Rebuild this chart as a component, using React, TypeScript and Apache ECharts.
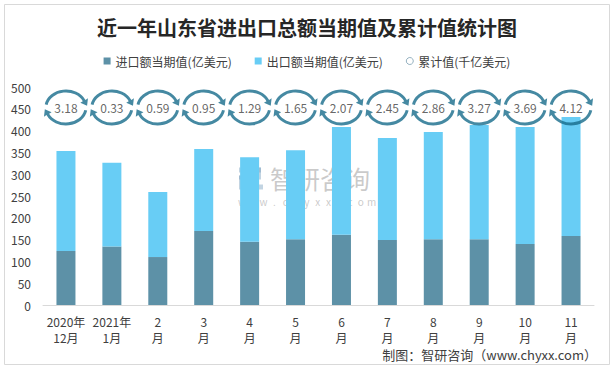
import React, { useEffect, useRef } from "react";
import * as echarts from "echarts";

const categories = ["2020年\n12月", "2021年\n1月", "2\n月", "3\n月", "4\n月", "5\n月", "6\n月", "7\n月", "8\n月", "9\n月", "10\n月", "11\n月"];
const importValues = [124, 134, 110, 170, 145, 151, 161, 149, 151, 151, 140, 158];
const exportValues = [229, 192, 149, 188, 194, 204, 247, 234, 246, 262, 268, 273];
const cumulativeValues = [3.18, 0.33, 0.59, 0.95, 1.29, 1.65, 2.07, 2.45, 2.86, 3.27, 3.69, 4.12];
const yTicks = { min: 0, max: 500, interval: 50 };

const ICON_LEVEL = 453;
const CYCLE_PATH =
  "path://M 6.67 35.75 A 44 36 0 0 1 89.88 26.79 L 94.96 23.55 L 93.16 38.45 L 79.36 32.55 L 84.44 29.32 A 38 30 0 0 0 12.58 36.79 Z " +
  "M 93.33 48.25 A 44 36 0 0 1 10.12 57.21 L 5.04 60.45 L 6.84 45.55 L 20.64 51.45 L 15.56 54.68 A 38 30 0 0 0 87.42 47.21 Z";

const FONT = "'Noto Sans CJK SC', 'Microsoft YaHei', sans-serif";
const WATERMARK_URL = "www.chyxx.com".split("");
const WM_FILL = "rgba(150,150,150,0.5)";
const LOGO_FILL = "rgba(120,160,190,0.45)";

export default function App() {
  const ref = useRef<HTMLDivElement>(null);
  useEffect(() => {
    document.body.style.margin = "0";
    const chart = echarts.init(ref.current!, undefined, { renderer: "svg" });
    chart.setOption({
      animation: false,
      backgroundColor: "#ffffff",
      textStyle: { fontFamily: FONT },
      title: {
        text: "近一年山东省进出口总额当期值及累计值统计图",
        left: "center",
        top: 12,
        textStyle: { fontSize: 20, fontWeight: "bold", color: "#262626", fontFamily: FONT },
      },
      legend: {
        top: 50,
        left: "center",
        itemWidth: 7,
        itemHeight: 7,
        itemGap: 23,
        textStyle: { fontSize: 12, color: "#404040", fontFamily: FONT },
        data: [
          { name: "进口额当期值(亿美元)", icon: "rect" },
          { name: "出口额当期值(亿美元)", icon: "rect" },
          {
            name: "累计值(千亿美元)",
            icon: "circle",
            itemStyle: { color: "#ffffff", borderColor: "#7a9db0", borderWidth: 1 },
          },
        ],
      },
      grid: { left: 43, right: 20, top: 87, bottom: 64 },
      xAxis: {
        type: "category",
        data: categories,
        axisLine: { lineStyle: { color: "#d9d9d9", width: 1 } },
        axisTick: { show: false },
        axisLabel: { color: "#404040", fontSize: 12, lineHeight: 16, margin: 8, interval: 0 },
      },
      yAxis: {
        type: "value",
        min: yTicks.min,
        max: yTicks.max,
        interval: yTicks.interval,
        axisLine: { show: false },
        axisTick: { show: false },
        splitLine: { show: false },
        axisLabel: { color: "#404040", fontSize: 12, margin: 12 },
      },
      series: [
        {
          name: "进口额当期值(亿美元)",
          type: "bar",
          stack: "total",
          barWidth: 19,
          itemStyle: { color: "#5d91a7" },
          data: importValues,
        },
        {
          name: "出口额当期值(亿美元)",
          type: "bar",
          stack: "total",
          barWidth: 19,
          itemStyle: { color: "#68cdf5" },
          data: exportValues,
        },
        {
          name: "累计值(千亿美元)",
          type: "scatter",
          symbol: CYCLE_PATH,
          symbolSize: [44, 36],
          itemStyle: { color: "#176b8b" },
          z: 5,
          label: {
            show: true,
            position: "inside",
            color: "#404040",
            fontSize: 12,
            formatter: (p: any) => cumulativeValues[p.dataIndex].toFixed(2),
          },
          data: cumulativeValues.map((_, i) => [i, ICON_LEVEL]),
        },
      ],
      graphic: [
        {
          type: "rect",
          shape: { x: 4.5, y: 4.5, width: 605, height: 360 },
          style: { fill: "none", stroke: "#d9d9d9", lineWidth: 1 },
          silent: true,
        },
        {
          type: "group",
          left: 238,
          top: 165,
          z: 100,
          silent: true,
          children: [
            { type: "rect", shape: { x: 0, y: 1, width: 22, height: 5 }, style: { fill: LOGO_FILL } },
            { type: "rect", shape: { x: 17, y: 1, width: 5, height: 12 }, style: { fill: LOGO_FILL } },
            { type: "rect", shape: { x: 0, y: 9, width: 14, height: 4 }, style: { fill: LOGO_FILL } },
            { type: "rect", shape: { x: 0, y: 9, width: 5, height: 14 }, style: { fill: LOGO_FILL } },
            { type: "rect", shape: { x: 8, y: 18, width: 16, height: 5 }, style: { fill: LOGO_FILL } },
            {
              type: "text",
              x: 31,
              y: 11,
              style: {
                text: "智研咨询",
                fontSize: 25,
                fontFamily: FONT,
                fill: WM_FILL,
                verticalAlign: "middle",
              },
            },
            ...WATERMARK_URL.map((ch, i) => ({
              type: "text",
              x: 3 + i * 10.8,
              y: 35,
              style: {
                text: ch,
                fontSize: 10,
                fontFamily: FONT,
                fill: WM_FILL,
                align: "center",
                verticalAlign: "middle",
              },
            })),
          ],
        },
        {
          type: "text",
          right: 17,
          top: 348,
          style: {
            text: "制图：智研咨询（www.chyxx.com）",
            fontSize: 13,
            fontFamily: FONT,
            fill: "#404040",
          },
          silent: true,
        },
      ],
    });
    return () => chart.dispose();
  }, []);
  return <div ref={ref} style={{ position: "fixed", left: 0, top: 0, width: 614, height: 369 }} />;
}
